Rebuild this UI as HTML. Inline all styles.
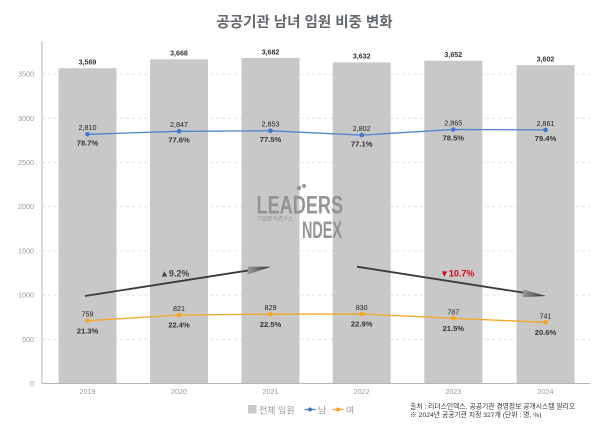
<!DOCTYPE html>
<html><head><meta charset="utf-8"><style>
html,body{margin:0;padding:0;background:#fff;}
svg{display:block;}
text{font-family:"Liberation Sans","Noto Sans CJK KR",sans-serif;}
</style></head><body>
<svg width="600" height="428" viewBox="0 0 600 428" xmlns="http://www.w3.org/2000/svg">
<defs>
<linearGradient id="ah" x1="0" y1="0" x2="1" y2="0">
<stop offset="0" stop-color="#9a9a9a"/><stop offset="1" stop-color="#2e2e2e"/>
</linearGradient>
</defs>
<!-- title -->
<text x="304.5" y="27" text-anchor="middle" font-size="14.5" font-weight="bold" fill="#62676c">공공기관 남녀 임원 비중 변화</text>

<!-- gridlines -->
<g stroke="#dcdcdc" stroke-width="0.8" stroke-dasharray="3,3">
<line x1="42" y1="339.3" x2="590" y2="339.3"/>
<line x1="42" y1="295.1" x2="590" y2="295.1"/>
<line x1="42" y1="250.9" x2="590" y2="250.9"/>
<line x1="42" y1="206.7" x2="590" y2="206.7"/>
<line x1="42" y1="162.5" x2="590" y2="162.5"/>
<line x1="42" y1="118.3" x2="590" y2="118.3"/>
<line x1="42" y1="74.1" x2="590" y2="74.1"/>
</g>
<!-- tick labels -->
<g font-size="7.2" fill="#9a9a9a" text-anchor="end">
<text x="34" y="386">0</text>
<text x="34" y="341.8">500</text>
<text x="34" y="297.6">1000</text>
<text x="34" y="253.4">1500</text>
<text x="34" y="209.2">2000</text>
<text x="34" y="165">2500</text>
<text x="34" y="120.8">3000</text>
<text x="34" y="76.6">3500</text>
</g>

<!-- bars -->
<g fill="#c8c8c8">
<rect x="58.5" y="68.2" width="58" height="314.8"/>
<rect x="150" y="59.3" width="58" height="323.7"/>
<rect x="241.5" y="58" width="58" height="325"/>
<rect x="332.7" y="62.4" width="58" height="320.6"/>
<rect x="424.3" y="60.7" width="58" height="322.3"/>
<rect x="516.5" y="65.1" width="58" height="317.9"/>
</g>

<!-- axes -->
<line x1="42" y1="41.5" x2="42" y2="383.5" stroke="#b5b5b5" stroke-width="1"/>
<line x1="42" y1="383.5" x2="590" y2="383.5" stroke="#b5b5b5" stroke-width="1"/>

<!-- bar totals -->
<g font-size="7.1" font-weight="bold" fill="#333" text-anchor="middle">
<text x="87.5" y="64.5">3,569</text>
<text x="179" y="55.6">3,668</text>
<text x="270.5" y="54.3">3,682</text>
<text x="361.7" y="58.7">3,632</text>
<text x="453.3" y="57">3,652</text>
<text x="545.5" y="61.4">3,602</text>
</g>

<!-- watermark logo -->
<g fill="#8e8e8e" opacity="0.92">
<text x="0" y="0" font-size="25" font-weight="bold" transform="translate(256.5,213.3) scale(0.725,1)">LEADERS</text>
<text x="257" y="220.5" font-size="5.6" fill="#8a8a8a" font-family="'Noto Sans CJK KR',sans-serif">기업분석연구소</text>
<text x="0" y="0" font-size="24" font-weight="bold" transform="translate(302,238) scale(0.6,1)">NDEX</text>
<circle cx="299" cy="188" r="2.2"/>
<circle cx="304" cy="186" r="2"/>
</g>

<!-- male line -->
<polyline fill="none" stroke="#4a82d4" stroke-width="1.3" points="87.5,134.3 179,131.3 270.5,130.8 361.7,135.1 453.3,129.5 545.5,129.9"/>
<g fill="#3f78cc">
<circle cx="87.5" cy="134.3" r="2.3"/><circle cx="179" cy="131.3" r="2.3"/><circle cx="270.5" cy="130.8" r="2.3"/>
<circle cx="361.7" cy="135.1" r="2.3"/><circle cx="453.3" cy="129.5" r="2.3"/><circle cx="545.5" cy="129.9" r="2.3"/>
</g>
<g font-size="7.2" fill="#222" text-anchor="middle">
<text x="87.5" y="130.2">2,810</text>
<text x="179" y="127.2">2,847</text>
<text x="270.5" y="126.7">2,853</text>
<text x="361.7" y="131">2,802</text>
<text x="453.3" y="125.4">2,865</text>
<text x="545.5" y="125.8">2,861</text>
</g>
<g font-size="7.6" font-weight="bold" fill="#333" text-anchor="middle">
<text x="87.5" y="145.5">78.7%</text>
<text x="179" y="142.5">77.6%</text>
<text x="270.5" y="142">77.5%</text>
<text x="361.7" y="146.3">77.1%</text>
<text x="453.3" y="140.7">78.5%</text>
<text x="545.5" y="141.1">79.4%</text>
</g>

<!-- female line -->
<polyline fill="none" stroke="#f5a623" stroke-width="1.3" points="87.5,320.7 179,315 270.5,314.2 361.7,314 453.3,318.3 545.5,322.3"/>
<g fill="#f5a623">
<circle cx="87.5" cy="320.7" r="2.3"/><circle cx="179" cy="315" r="2.3"/><circle cx="270.5" cy="314.2" r="2.3"/>
<circle cx="361.7" cy="314" r="2.3"/><circle cx="453.3" cy="318.3" r="2.3"/><circle cx="545.5" cy="322.3" r="2.3"/>
</g>
<g font-size="7.2" fill="#222" text-anchor="middle">
<text x="87.5" y="316.7">759</text>
<text x="179" y="311">821</text>
<text x="270.5" y="310.2">829</text>
<text x="361.7" y="310">830</text>
<text x="453.3" y="314.3">787</text>
<text x="545.5" y="318.3">741</text>
</g>
<g font-size="7.6" font-weight="bold" fill="#333" text-anchor="middle">
<text x="87.5" y="333.3">21.3%</text>
<text x="179" y="327.6">22.4%</text>
<text x="270.5" y="326.8">22.5%</text>
<text x="361.7" y="326.6">22.9%</text>
<text x="453.3" y="330.9">21.5%</text>
<text x="545.5" y="334.9">20.6%</text>
</g>

<!-- arrows -->
<line x1="85" y1="296" x2="250" y2="270.2" stroke="#3a3a3a" stroke-width="1.8"/>
<polygon points="271,266.7 247.5,274.5 248.3,266.6" fill="url(#ah)"/>
<line x1="357" y1="266.7" x2="525" y2="292.9" stroke="#3a3a3a" stroke-width="1.8"/>
<polygon points="546,296 522.6,297.2 523.5,289.6" fill="url(#ah)"/>
<text x="160" y="276.5" font-size="9" font-weight="bold" fill="#444">▲9.2%</text>
<text x="440" y="276.5" font-size="9" font-weight="bold" fill="#d0021b">▼10.7%</text>

<!-- x labels -->
<g font-size="7.2" fill="#9a9a9a" text-anchor="middle">
<text x="87.5" y="394.2">2019</text>
<text x="179" y="394.2">2020</text>
<text x="270.5" y="394.2">2021</text>
<text x="361.7" y="394.2">2022</text>
<text x="453.3" y="394.2">2023</text>
<text x="545.5" y="394.2">2024</text>
</g>

<!-- legend -->
<rect x="248" y="405" width="8.5" height="8.5" fill="#c8c8c8"/>
<text x="259" y="413.3" font-size="9" fill="#9a9a9a">전체 임원</text>
<line x1="304.5" y1="409.5" x2="315.5" y2="409.5" stroke="#4a82d4" stroke-width="1.3"/>
<circle cx="310" cy="409.5" r="2" fill="#3f78cc"/>
<text x="318" y="413.3" font-size="9" fill="#9a9a9a">남</text>
<line x1="332.5" y1="409.5" x2="343.5" y2="409.5" stroke="#f5a623" stroke-width="1.3"/>
<circle cx="338" cy="409.5" r="2" fill="#f5a623"/>
<text x="346" y="413.3" font-size="9" fill="#9a9a9a">여</text>

<!-- source -->
<text x="410" y="408.5" font-size="6.8" fill="#333">출처 : 리더스인덱스, 공공기관 경영정보 공개시스템 알리오</text>
<text x="410" y="417" font-size="6.8" fill="#333">※ 2024년 공공기관 지정 327개 (단위 : 명, %)</text>
</svg>
</body></html>
